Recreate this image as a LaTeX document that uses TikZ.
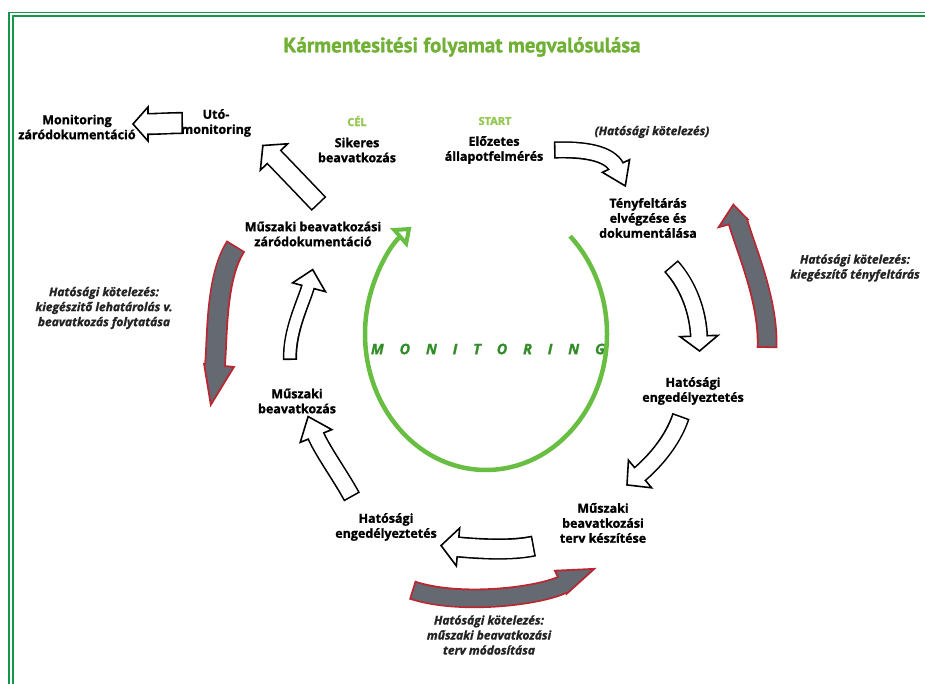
\documentclass[tikz,border=0pt]{standalone}
\usepackage{fontspec}
\setmainfont{Open Sans}[BoldFeatures={FakeBold=1.2},BoldItalicFeatures={FakeBold=1.2}]
\newfontfamily\titlefont{PT Sans}[BoldFeatures={FakeBold=1}]
\usetikzlibrary{arrows.meta,calc}
\definecolor{bordergreen}{RGB}{22,150,72}
\definecolor{titlegreen}{RGB}{112,176,52}
\definecolor{lightgreen}{RGB}{146,200,80}
\definecolor{circgreen}{RGB}{104,190,66}
\definecolor{mongreen}{RGB}{50,140,40}
\definecolor{slate}{RGB}{100,105,114}
\definecolor{redline}{RGB}{185,40,50}
\definecolor{itgray}{RGB}{35,35,35}
\newcommand{\whitearrows}{\def\bkline{1.6pt}\def\bkdraw{black}\def\bkfill{white}}
\newcommand{\grayarrows}{\def\bkline{1.8pt}\def\bkdraw{redline}\def\bkfill{slate}}
% #1 tail, #2 first control, #3 back distance of 2nd control, #4 base, #5 angle,
% #6 shaft width, #7 left half width, #8 right half width, #9 head length
\newcommand{\blockarrow}[9]{%
  \pgfmathsetlengthmacro\bkouter{#6pt+2*\bkline}%
  \draw[line width=\bkouter, draw=\bkdraw, shorten >=-2pt] (#1) .. controls (#2) and ($(#4)+(#5+180:#3)$) .. (#4);
  \draw[line width=\bkline, draw=\bkdraw, fill=\bkfill, line join=miter]
    ($(#4)+(#5-90:#7)$) -- ($(#4)+(#5:#9)$) -- ($(#4)+(#5+90:#8)$) -- cycle;
  \draw[line width=#6pt, draw=\bkfill, shorten <=\bkline, shorten >=-2pt] (#1) .. controls (#2) and ($(#4)+(#5+180:#3)$) .. (#4);
}
\begin{document}
\begin{tikzpicture}[x=1pt,y=-1pt,
  lbl/.style={font=\bfseries\fontsize{12.5}{15}\selectfont, align=center, text=black, inner sep=0pt},
  ital/.style={font=\bfseries\itshape\fontsize{12}{15}\selectfont, align=center, text=itgray, inner sep=0pt},
  greenhead/.style={font=\bfseries\fontsize{11}{13}\selectfont, text=lightgreen, inner sep=0pt},
  titlestyle/.style={font=\titlefont\bfseries\fontsize{21}{24}\selectfont, text=titlegreen, inner sep=0pt},
  monstyle/.style={font=\bfseries\itshape\fontsize{14.5}{16}\selectfont, text=mongreen, inner sep=0pt},
  border/.style={draw=bordergreen, line width=1.6pt}
]
\useasboundingbox (0,0) rectangle (925,684);
\fill[white] (0,0) rectangle (925,684);
% frame
\draw[border] (9,684) -- (9,12.5) -- (925,12.5);
\draw[border] (13,684) -- (13,16.2) -- (925,16.2);

% title
\node[titlestyle] (title) at (462,47) {Kármentesitési folyamat megvalósulása};

% labels
\node[lbl] (mzd) at (77,127) {Monitoring\\záródokumentáció};
\node[lbl] (uto) at (216,123) {Utó-\\monitoring};
\node[greenhead] (celh) at (357,121) {CÉL};
\node[lbl] (cel) at (357,150) {Sikeres\\beavatkozás};
\node[greenhead] (starth) at (495,121) {START};
\node[lbl] (start) at (494,150) {Előzetes\\állapotfelmérés};
\node[ital] (hk1) at (652,132) {(Hatósági kötelezés)};
\node[lbl] (teny) at (648,218) {Tényfeltárás\\elvégzése és\\dokumentálása};
\node[ital] (hk2) at (855,268) {Hatósági kötelezés:\\kiegészítő tényfeltárás};
\node[lbl] (mbz) at (313,234) {Műszaki beavatkozási\\záródokumentáció};
\node[ital] (hk3) at (104,308) {Hatósági kötelezés:\\kiegészitő lehatárolás v.\\beavatkozás folytatása};
\node[monstyle] (mon) at (488,349) {\makebox[234pt][s]{M\hfil O\hfil N\hfil I\hfil T\hfil O\hfil R\hfil I\hfil N\hfil G}};
\node[lbl] (he1) at (693,391) {Hatósági\\engedélyeztetés};
\node[lbl] (mb) at (297,401) {Műszaki\\beavatkozás};
\node[lbl] (mbt) at (603,523) {Műszaki\\beavatkozási\\terv készítése};
\node[lbl] (he2) at (386,527) {Hatósági\\engedélyeztetés};
\node[ital] (hk4) at (489,635) {Hatósági kötelezés:\\műszaki beavatkozási\\terv módosítása};

% monitoring loop
\coordinate (mc) at (486,334);
\draw[circgreen, line width=4.5pt, -{Triangle[open, length=17pt, width=25pt, line width=4pt]}]
  (mc) ++(-46:121 and 136) arc[start angle=-46, end angle=232, x radius=121, y radius=136];

% arrow anchor points
\coordinate (a1t) at (183,123); \coordinate (a1b) at (148,124);
\coordinate (a2t) at (319,204); \coordinate (a2b) at (274,157);
\coordinate (a3t) at (554,150); \coordinate (a3b) at (616,166);
\coordinate (a4t) at (671,266); \coordinate (a4b) at (699,336);
\coordinate (a5t) at (681,416); \coordinate (a5b) at (640,474);
\coordinate (a6t) at (534,546); \coordinate (a6b) at (458,547);
\coordinate (a7t) at (352,497); \coordinate (a7b) at (316,436);
\coordinate (a8t) at (290,360); \coordinate (a8b) at (308,287);
\coordinate (g1t) at (767,348); \coordinate (g1b) at (738,222);
\coordinate (g2t) at (236,246); \coordinate (g2b) at (215,365);
\coordinate (g3t) at (412,590); \coordinate (g3b) at (562,585);

% white process arrows
\whitearrows
\blockarrow{a1t}{170,123}{10}{a1b}{180}{19}{17}{17}{15}
\blockarrow{a2t}{300,184}{10}{a2b}{-134}{17}{19}{19}{16}
\blockarrow{a3t}{585,149}{14}{a3b}{65}{14}{15}{15}{22}
\blockarrow{a4t}{688,285}{25}{a4b}{88}{15}{19}{19}{15}
\blockarrow{a5t}{673,440}{20}{a5b}{140}{15}{18}{18}{17}
\blockarrow{a6t}{510,551}{20}{a6b}{185}{18}{19}{19}{17}
\blockarrow{a7t}{340,475}{15}{a7b}{248}{15}{17}{17}{21}
\blockarrow{a8t}{289,330}{15}{a8b}{-75}{11}{16}{18}{18}

% grey obligation arrows
\grayarrows
\blockarrow{g1t}{769,300}{25}{g1b}{-105}{17}{20}{10}{18}
\blockarrow{g2t}{215,278}{25}{g2b}{96}{18}{19}{11}{40}
\blockarrow{g3t}{460,606}{25}{g3b}{-26.6}{16}{16}{10}{36}
\end{tikzpicture}
\end{document}
